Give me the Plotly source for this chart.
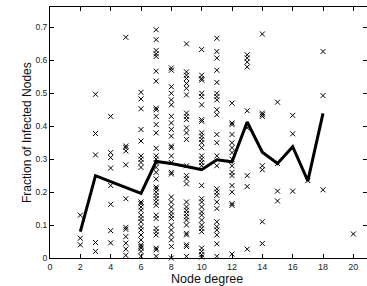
import plotly.graph_objects as go

degrees = [2, 3, 4, 5, 6, 7, 8, 9, 10, 11, 12, 13, 14, 15, 16, 17, 18, 20]

fractions = [
    [0.13, 0.06, 0.04],
    [0.497, 0.378, 0.313, 0.047, 0.02],
    [0.43, 0.32, 0.305, 0.273, 0.22, 0.163, 0.083, 0.046],
    [0.67, 0.34, 0.335, 0.325, 0.283, 0.18, 0.093, 0.087, 0.065, 0.045, 0.027, 0.008],
    [0.503, 0.483, 0.453, 0.39, 0.355, 0.31, 0.30, 0.29, 0.275, 0.17, 0.165, 0.155,
     0.145, 0.13, 0.12, 0.11, 0.095, 0.085, 0.07, 0.055, 0.04, 0.035, 0.03, 0.02, 0.005],
    [0.693, 0.663, 0.63, 0.62, 0.612, 0.567, 0.537, 0.455, 0.45, 0.43, 0.405, 0.38,
     0.333, 0.31, 0.30, 0.29, 0.275, 0.26, 0.24, 0.215, 0.21, 0.20, 0.19, 0.18, 0.17,
     0.16, 0.13, 0.12, 0.09, 0.08, 0.07, 0.03, 0.025, 0.005],
    [0.577, 0.57, 0.52, 0.50, 0.48, 0.465, 0.43, 0.41, 0.39, 0.37, 0.34, 0.335, 0.31,
     0.29, 0.26, 0.255, 0.185, 0.17, 0.155, 0.14, 0.13, 0.12, 0.10, 0.085, 0.07,
     0.055, 0.035, 0.0],
    [0.65, 0.565, 0.555, 0.545, 0.53, 0.515, 0.495, 0.44, 0.43, 0.42, 0.395, 0.38,
     0.36, 0.28, 0.25, 0.24, 0.225, 0.17, 0.155, 0.145, 0.135, 0.125, 0.115, 0.10,
     0.075, 0.07, 0.04, 0.035, 0.005],
    [0.633, 0.555, 0.545, 0.54, 0.50, 0.49, 0.465, 0.42, 0.415, 0.38, 0.37, 0.36,
     0.35, 0.335, 0.31, 0.30, 0.29, 0.28, 0.22, 0.18, 0.17, 0.155, 0.14, 0.13, 0.115,
     0.10, 0.09, 0.08, 0.03, 0.02, 0.01, 0.003],
    [0.667, 0.627, 0.607, 0.57, 0.533, 0.50, 0.49, 0.48, 0.45, 0.435, 0.375, 0.35,
     0.31, 0.28, 0.21, 0.20, 0.19, 0.17, 0.15, 0.11, 0.095, 0.085, 0.07, 0.043, 0.005],
    [0.47, 0.41, 0.405, 0.375, 0.35, 0.335, 0.32, 0.30, 0.28, 0.26, 0.25, 0.22, 0.20,
     0.165, 0.16, 0.012],
    [0.617, 0.607, 0.595, 0.58, 0.447, 0.395, 0.25, 0.217, 0.027],
    [0.68, 0.44, 0.435, 0.43, 0.28, 0.268, 0.11, 0.044],
    [0.473, 0.287, 0.203, 0.173],
    [0.433, 0.377, 0.203],
    [0.235],
    [0.627, 0.493, 0.207],
    [0.073],
]

mean_degrees = [2, 3, 4, 5, 6, 7, 8, 9, 10, 11, 12, 13, 14, 15, 16, 17, 18]
mean_fraction = [0.08, 0.25, 0.232, 0.213, 0.196, 0.293, 0.287, 0.278, 0.268,
                 0.298, 0.292, 0.413, 0.321, 0.287, 0.338, 0.234, 0.439]

x_ticks = [0, 2, 4, 6, 8, 10, 12, 14, 16, 18, 20]
y_ticks = [0, 0.1, 0.2, 0.3, 0.4, 0.5, 0.6, 0.7]
y_tick_text = ["0", "0.1", "0.2", "0.3", "0.4", "0.5", "0.6", "0.7"]

xs, ys = [], []
for d, vals in zip(degrees, fractions):
    for v in vals:
        xs.append(d)
        ys.append(v)

fig = go.Figure()
fig.add_trace(go.Scatter(
    x=xs, y=ys, mode="markers",
    marker=dict(symbol="x-thin-open", size=5, color="black",
                line=dict(color="black", width=1)),
    cliponaxis=False, showlegend=False))
fig.add_trace(go.Scatter(
    x=mean_degrees, y=mean_fraction, mode="lines",
    line=dict(color="black", width=3), showlegend=False))
fig.add_trace(go.Scatter(x=[None], y=[None], yaxis="y2", showlegend=False))

W, H = 367, 286
ML, MR, MT, MB = 50, 0, 7, 28
pw, ph = W - ML - MR, H - MT - MB

font_family = "Liberation Sans, Arial, sans-serif"
fig.update_layout(
    width=W, height=H,
    margin=dict(l=ML, r=MR, t=MT, b=MB, autoexpand=False),
    paper_bgcolor="white", plot_bgcolor="white",
    font=dict(family=font_family, color="black"),
    xaxis=dict(range=[0, 20.9], tickvals=x_ticks, ticks="inside", ticklen=4,
               tickcolor="black", showline=True, linecolor="black", linewidth=1,
               mirror="ticks", showgrid=False, zeroline=False, automargin=False,
               tickfont=dict(size=9, color="#222")),
    yaxis=dict(range=[0, 0.762], tickvals=y_ticks, ticktext=y_tick_text,
               ticks="inside", ticklen=4, tickcolor="black", showline=True,
               linecolor="black", linewidth=1, showgrid=False, zeroline=False,
               automargin=False, tickfont=dict(size=8.5, color="#222")),
    yaxis2=dict(range=[0, 0.762], tickvals=y_ticks, overlaying="y", side="right",
                ticks="inside", ticklen=4, tickcolor="black", showticklabels=False,
                showline=False, showgrid=False, zeroline=False, automargin=False),
    annotations=[
        dict(text="Node degree", xref="paper", yref="paper",
             x=(207 - ML) / pw, y=(H - MB - 279) / ph,
             xanchor="center", yanchor="middle",
             showarrow=False, font=dict(size=12.5, color="#111")),
        dict(text="Fraction of Infected Nodes", textangle=-90,
             xref="paper", yref="paper",
             x=(27 - ML) / pw, y=(H - MB - 133) / ph,
             xanchor="center", yanchor="middle",
             showarrow=False, font=dict(size=12, color="#111")),
    ],
)

fig.write_html("out.html", config={"displayModeBar": False},
               post_script="document.body.style.margin='0';document.body.style.overflow='hidden';")
